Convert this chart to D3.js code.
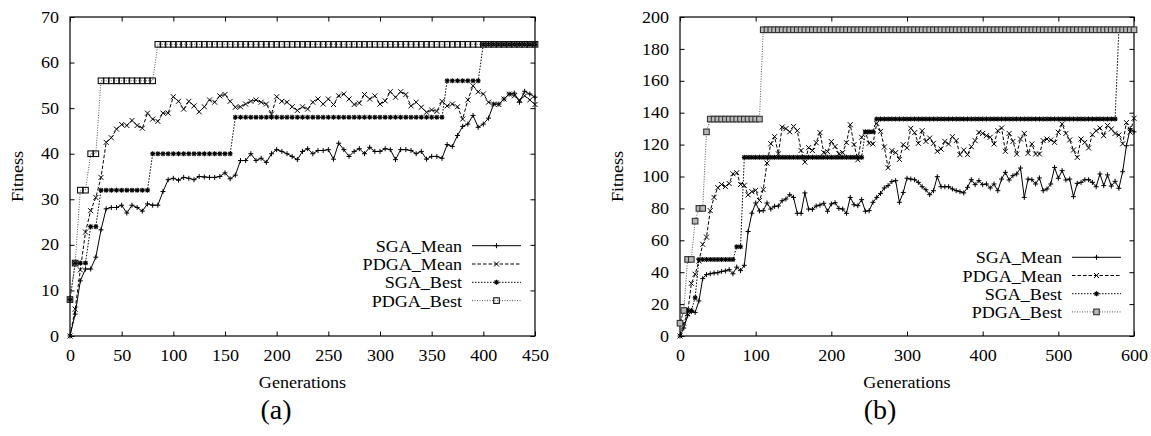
<!DOCTYPE html>
<html>
<head>
<meta charset="utf-8">
<script src="https://cdn.jsdelivr.net/npm/d3@7"></script>
<style>
  body { margin: 0; background: #fff; }
</style>
</head>
<body>
<svg id="chart" width="1151" height="436"></svg>
<script>
// ---- data (one value every 5 generations) ----
const gensA = d3.range(0, 451, 5);
const gensB = d3.range(0, 601, 5);

const sgaMeanA = [0,4.8,12.1,14.7,14.7,17.3,23.3,27.9,28.2,28.2,
  28.7,27,28.7,28.2,27.4,29,28.7,28.7,31.7,34.3,
  34.6,34.2,34.8,34.6,34.3,35,34.9,34.8,34.8,35,
  35.8,34.5,35.3,38.5,38.5,40,38.5,39,38.1,40,
  40.9,40.5,40,39.4,38.7,40.5,41.1,40,40.7,40.7,
  40.9,38.8,42.3,40.9,39.4,40.5,41.1,40,41.4,40.5,
  40.5,41.1,40.9,38.7,40.9,40.9,40.7,40,40.5,38.8,
  39.4,39.4,39,42,41.6,44,46,46.5,48.4,45.8,
  46.5,47.8,50.9,50.9,52,53.1,53.3,51.3,53.7,53.1,
  52.4];
const pdgaMeanA = [0,5.9,14.5,22.8,27.5,30.4,34.8,42.5,43.5,45.4,
  46.4,46.2,47.3,46.2,45.6,48.9,47.6,47.1,48.9,48.9,
  52.5,51.5,49.8,51.5,50.5,49.2,50.3,51.8,51.3,52.7,
  53,51.5,50.2,50.3,50.9,51.5,51.8,51.3,50.9,48.7,
  52.5,51.5,51.3,50.3,49.5,50.3,49.8,51.3,52,50.9,
  52,50.8,52.7,53.1,52,50.8,51.1,53,52,52.7,
  50.9,51.6,53.6,52.4,53.6,53,50.5,51.3,50.2,49.1,
  49.6,49.3,51.5,50.5,50.9,50.3,47.6,51.8,54.9,53.6,
  53.1,51.3,50.9,50.8,52,53.1,52.7,51.8,52.7,51.8,
  50.8];
const sgaBestA = [8,16,16,16,24,24,32,32,32,32,
  32,32,32,32,32,32,40,40,40,40,
  40,40,40,40,40,40,40,40,40,40,
  40,40,48,48,48,48,48,48,48,48,
  48,48,48,48,48,48,48,48,48,48,
  48,48,48,48,48,48,48,48,48,48,
  48,48,48,48,48,48,48,48,48,48,
  48,48,48,56,56,56,56,56,56,56,
  64,64,64,64,64,64,64,64,64,64,
  64];
const pdgaBestA = [8,16,32,32,40,40,56,56,56,56,
  56,56,56,56,56,56,56,64,64,64,
  64,64,64,64,64,64,64,64,64,64,
  64,64,64,64,64,64,64,64,64,64,
  64,64,64,64,64,64,64,64,64,64,
  64,64,64,64,64,64,64,64,64,64,
  64,64,64,64,64,64,64,64,64,64,
  64,64,64,64,64,64,64,64,64,64,
  64,64,64,64,64,64,64,64,64,64,
  64];

const sgaMeanB = [0,5,12.7,15.3,14.8,22,36,38.5,39,39.5,
  39.7,40.5,40.8,41.6,39,43.2,41,44.3,65.5,77,
  83.4,78.4,78.6,83.4,79.6,81.3,81.5,84.8,85.9,88.6,
  86.9,76.9,76.9,89.7,79.6,79.4,81.5,82.1,83.2,78.2,
  82.8,83.6,80,79.6,76.9,86.9,82.3,81.7,85.5,78.2,
  78.6,83.8,86.9,89.4,92.8,94.3,96.8,97.4,83.8,90,
  98.9,98.4,98,96.3,93.6,91.7,88.6,91.1,99.9,93.6,
  93.6,93.6,92.2,91.1,90.5,89.7,93.2,98,94.9,97.4,
  94.9,95.3,92.8,95.3,91.1,98.4,102.6,97.8,100.5,101.6,
  105.3,86.9,98.4,98,95.3,99.1,91.1,92.2,95.3,105.7,
  98.9,103.7,97.8,98.4,87.4,95.7,96.3,98,98,96.3,
  93.6,101.6,94.3,101,94,97,92.6,103,119.3,130,
  128];
const pdgaMeanB = [0,8,14,33,38.7,47,57.5,62,78.6,86.9,
  93,95,93.7,95.6,101.7,102.4,95,94.5,88.5,90.5,
  91.3,85,91.8,108.4,120.5,125,114.2,131,130,128,
  131.4,128.7,116.3,109,118.1,116.3,121.2,127.5,115,115.6,
  121.9,118.8,114.2,115,121.2,132.5,120,110.5,124.6,127.8,
  120.8,120.4,133.3,128.3,118.5,105.5,116.2,115,110.7,120,
  118,130.2,127.5,120.8,128.7,122,124.1,120.8,115.8,117.2,
  122,120.4,125,122.5,113.7,116.6,113.7,118.7,122.5,127.7,
  127,125.6,124.6,120.4,128.7,130.4,115.8,127,122,114.1,
  123.5,127,114.5,120.4,114.1,114.1,122.5,123.5,122.9,121.4,
  127.7,132.9,127,122.9,116.6,112,123.5,121.4,117.9,126.2,
  128.7,130.4,125.6,132,129.8,127,126,120.5,133.8,127.8,
  136.5];
const sgaBestB = [8,16,16,16,24,48,48,48,48,48,
  48,48,48,48,48,56,56,112,112,112,
  112,112,112,112,112,112,112,112,112,112,
  112,112,112,112,112,112,112,112,112,112,
  112,112,112,112,112,112,112,112,112,128,
  128,128,136,136,136,136,136,136,136,136,
  136,136,136,136,136,136,136,136,136,136,
  136,136,136,136,136,136,136,136,136,136,
  136,136,136,136,136,136,136,136,136,136,
  136,136,136,136,136,136,136,136,136,136,
  136,136,136,136,136,136,136,136,136,136,
  136,136,136,136,136,136,192,192,192,192,
  192];
const pdgaBestB = [8,16,48,48,72,80,80,128,136,136,
  136,136,136,136,136,136,136,136,136,136,
  136,136,192,192,192,192,192,192,192,192,
  192,192,192,192,192,192,192,192,192,192,
  192,192,192,192,192,192,192,192,192,192,
  192,192,192,192,192,192,192,192,192,192,
  192,192,192,192,192,192,192,192,192,192,
  192,192,192,192,192,192,192,192,192,192,
  192,192,192,192,192,192,192,192,192,192,
  192,192,192,192,192,192,192,192,192,192,
  192,192,192,192,192,192,192,192,192,192,
  192,192,192,192,192,192,192,192,192,192,
  192];

const seriesNames = ["SGA_Mean", "PDGA_Mean", "SGA_Best", "PDGA_Best"];
const xTicksA = [0, 50, 100, 150, 200, 250, 300, 350, 400, 450];
const yTicksA = [0, 10, 20, 30, 40, 50, 60, 70];
const xTicksB = [0, 100, 200, 300, 400, 500, 600];
const yTicksB = [0, 20, 40, 60, 80, 100, 120, 140, 160, 180, 200];

// ---- drawing ----
const svg = d3.select("#chart");
const SX = 1.13;   // the figure's font is wider than Times
const FONT = "Liberation Serif";

const styles = {
  SGA_Mean:  {dash: null,      stroke: "#000", marker: "plus"},
  PDGA_Mean: {dash: "3.5,2",   stroke: "#000", marker: "cross"},
  SGA_Best:  {dash: "1.5,1.5", stroke: "#000", marker: "star"},
  PDGA_Best: {dash: "1,1.5",   stroke: "#555", marker: "square"}
};

function marker(g, type, x, y, sq) {
  const s = 2.5;
  if (type === "plus") {
    g.append("path").attr("d", `M${x-s},${y}H${x+s}M${x},${y-s}V${y+s}`)
      .attr("stroke", "#000").attr("stroke-width", 1);
  } else if (type === "cross") {
    g.append("path").attr("d", `M${x-s},${y-s}L${x+s},${y+s}M${x-s},${y+s}L${x+s},${y-s}`)
      .attr("stroke", "#000").attr("stroke-width", 1);
  } else if (type === "star") {
    g.append("path").attr("d", `M${x-s},${y}H${x+s}M${x},${y-s}V${y+s}M${x-s+0.6},${y-s+0.6}L${x+s-0.6},${y+s-0.6}M${x-s+0.6},${y+s-0.6}L${x+s-0.6},${y-s+0.6}`)
      .attr("stroke", "#000").attr("stroke-width", 1.1);
  } else {
    const q = 2.8;
    g.append("rect").attr("x", x-q).attr("y", y-q).attr("width", 2*q).attr("height", 2*q)
      .attr("fill", sq.fill).attr("stroke", sq.stroke).attr("stroke-width", 1.1);
  }
}

function label(g, transform, size, anchor, txt) {
  return g.append("text").attr("transform", transform)
    .attr("text-anchor", anchor)
    .attr("font-family", FONT).attr("font-size", size).attr("fill", "#000")
    .text(txt);
}

function drawPanel(p) {
  const x = d3.scaleLinear().domain([0, p.xMax]).range([p.left, p.right]);
  const y = d3.scaleLinear().domain([0, p.yMax]).range([p.bottom, p.top]);
  const g = svg.append("g");

  // axes, ticks pointing inward and mirrored
  const bottom = g.append("g").attr("transform", `translate(0,${p.bottom})`)
    .call(d3.axisBottom(x).tickValues(p.xTicks).tickSizeInner(-4.5).tickSizeOuter(0).tickPadding(13.5));
  const left = g.append("g").attr("transform", `translate(${p.left},0)`)
    .call(d3.axisLeft(y).tickValues(p.yTicks).tickSizeInner(-4.5).tickSizeOuter(0).tickPadding(9.7));
  g.append("g").attr("transform", `translate(0,${p.top})`)
    .call(d3.axisTop(x).tickValues(p.xTicks).tickSizeInner(-4.5).tickSizeOuter(0).tickFormat(""));
  g.append("g").attr("transform", `translate(${p.right},0)`)
    .call(d3.axisRight(y).tickValues(p.yTicks).tickSizeInner(-4.5).tickSizeOuter(0).tickFormat(""));
  g.selectAll(".domain").remove();
  g.selectAll(".tick line").attr("stroke", "#000").attr("stroke-width", 1);
  [bottom, left].forEach(a => {
    a.attr("font-family", FONT).attr("font-size", 16);
    a.selectAll(".tick text").attr("transform", `scale(${SX},1)`);
  });

  g.append("rect").attr("x", p.left).attr("y", p.top)
    .attr("width", p.right - p.left).attr("height", p.bottom - p.top)
    .attr("fill", "none").attr("stroke", "#000").attr("stroke-width", 1.2);

  const line = d3.line().x((d, i) => x(p.gens[i])).y(d => y(d));

  p.series.forEach((vals, k) => {
    const st = styles[seriesNames[k]];
    g.append("path").datum(vals).attr("d", line)
      .attr("fill", "none").attr("stroke", st.stroke).attr("stroke-width", 1)
      .attr("stroke-dasharray", st.dash);
    const mg = g.append("g");
    vals.forEach((v, i) => marker(mg, st.marker, x(p.gens[i]), y(v), p.sq));
  });

  // legend
  seriesNames.forEach((name, k) => {
    const st = styles[name];
    const ly = p.legY + k * p.legStep;
    label(g, `translate(${p.legText},${ly + 6}) scale(${SX},1)`, 16, "end", name);
    g.append("line").attr("x1", p.legX1).attr("x2", p.legX2).attr("y1", ly).attr("y2", ly)
      .attr("stroke", st.stroke).attr("stroke-width", 1).attr("stroke-dasharray", st.dash);
    marker(g, st.marker, (p.legX1 + p.legX2) / 2, ly, p.sq);
  });

  // axis titles and panel tag
  label(g, `translate(${p.fitX},${(p.top + p.bottom) / 2}) rotate(-90) scale(${SX},1)`, 16, "middle", "Fitness");
  label(g, `translate(${(p.left + p.right) / 2},388) scale(${SX},1)`, 16, "middle", "Generations");
  label(g, `translate(${p.tagX},419)`, 28, "middle", p.tag);
}

drawPanel({
  left: 70, right: 535, top: 17, bottom: 336,
  xMax: 450, yMax: 70, xTicks: xTicksA, yTicks: yTicksA,
  gens: gensA, series: [sgaMeanA, pdgaMeanA, sgaBestA, pdgaBestA],
  sq: {fill: "none", stroke: "#111"},
  legY: 245.7, legStep: 18.3, legText: 462, legX1: 472, legX2: 521,
  fitX: 23, tag: "(a)", tagX: 276
});

drawPanel({
  left: 680, right: 1134, top: 17, bottom: 336,
  xMax: 600, yMax: 200, xTicks: xTicksB, yTicks: yTicksB,
  gens: gensB, series: [sgaMeanB, pdgaMeanB, sgaBestB, pdgaBestB],
  sq: {fill: "#b8b8b8", stroke: "#333"},
  legY: 257.3, legStep: 18.2, legText: 1062, legX1: 1072, legX2: 1121,
  fitX: 623, tag: "(b)", tagX: 880
});
</script>
</body>
</html>
